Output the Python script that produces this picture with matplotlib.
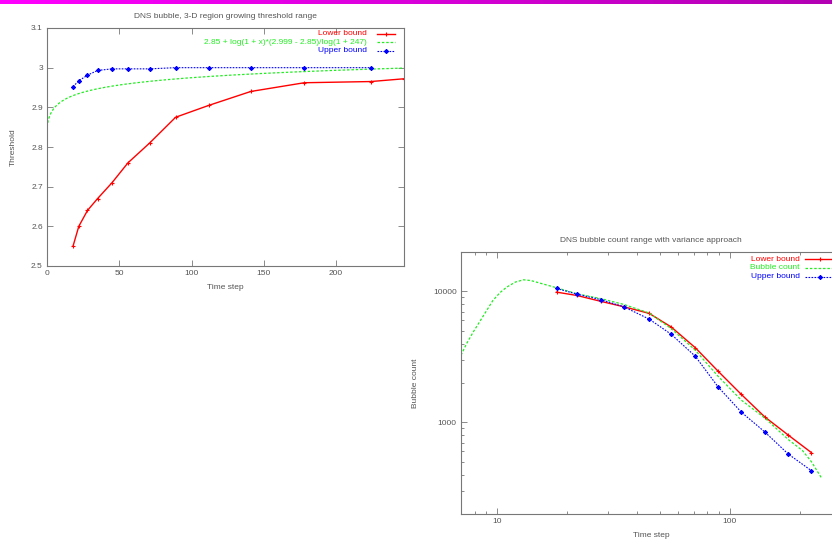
import numpy as np
import matplotlib.pyplot as plt
from matplotlib.ticker import FixedLocator, NullFormatter

plt.rcParams['font.family'] = ['Liberation Sans', 'DejaVu Sans']

# time steps shared by both runs
steps = [18, 22, 28, 35, 45, 56, 71, 89, 112, 141, 178, 224]

# threshold range (3-D region growing)
thr_steps_low = steps + [247]
thr_low = [2.55, 2.60, 2.64, 2.67, 2.71, 2.76, 2.81, 2.875, 2.905, 2.94, 2.962, 2.965, 2.972]
thr_up = [2.952, 2.967, 2.981, 2.993, 2.997, 2.997, 2.997, 3.0, 3.0, 3.0, 3.0, 3.0]
fit_base, fit_top, fit_end = 2.85, 2.999, 247
thr_yticks = [2.5, 2.6, 2.7, 2.8, 2.9, 3.0, 3.1]
thr_yticklabels = ['2.5', '2.6', '2.7', '2.8', '2.9', '3', '3.1']
thr_xticks = [0, 50, 100, 150, 200]

# bubble count range (variance approach)
cnt_low = [9880, 9320, 8390, 7640, 6800, 5350, 3720, 2460, 1635, 1104, 801, 588]
cnt_up = [10540, 9540, 8640, 7640, 6150, 4705, 3200, 1866, 1197, 848, 574, 428]
bubble_t = [7.0, 7.4, 7.9, 8.4, 9.0, 9.6, 10.3, 11.0, 12.0, 13.0, 14.0, 15.3, 18,
            22, 28, 35, 45, 56, 71, 89, 112, 142, 178, 205, 224, 248]
bubble_n = [3260, 4000, 4900, 5840, 7100, 8540, 9800, 10790, 11800, 12270, 12100,
            11570, 10670, 9600, 8800, 7960, 6840, 5200, 3560, 2250, 1479, 1073,
            741, 610, 501, 374]

RED, GREEN, BLUE = '#ff0000', '#22ee22', '#0000ff'
GREY = '#555555'
FS = 6

fig = plt.figure(figsize=(8.32, 5.42), dpi=100)

# magenta strip across the top
bar = fig.add_axes([0, 1 - 4 / 542, 1, 4 / 542])
grad = np.linspace(0, 1, 256)
rgb = np.stack([1 - 0.3 * grad, np.zeros_like(grad), 1 - 0.3 * grad], axis=-1)
bar.imshow(rgb[None, :, :], aspect='auto', extent=[0, 1, 0, 1])
bar.axis('off')


def style_axes(ax):
    for s in ax.spines.values():
        s.set_color('#777777')
        s.set_linewidth(0.8)
    ax.tick_params(which='both', direction='in', top=True, right=True,
                   color='#777777', width=0.6, labelsize=FS, labelcolor=GREY)
    ax.tick_params(which='major', length=4, pad=3)
    ax.tick_params(which='minor', length=2.5)


def key(ax, row, label, y0, dy, xt, xs0, xs1, **style):
    y = 1 - y0 - row * dy
    ax.text(xt, y, label, transform=ax.transAxes, ha='right', va='center',
            fontsize=FS, color=style['color'])
    ax.plot([xs0, (xs0 + xs1) / 2, xs1], [y, y, y], transform=ax.transAxes,
            clip_on=False, markevery=[1], **style)


low_style = dict(color=RED, lw=1.0, marker='+', ms=3, mew=0.8)
fit_style = dict(color=GREEN, lw=0.9, ls=(0, (2, 1.5)))
up_style = dict(color=BLUE, lw=0.8, ls=(0, (1.5, 1.2)), marker=(8, 2, 0), ms=3, mew=0.8)

# left: threshold range
ax1 = fig.add_axes([47 / 832, 1 - 266 / 542, 357 / 832, 238 / 542])
t_fit = np.linspace(0, fit_end, 400)
y_fit = fit_base + np.log1p(t_fit) * (fit_top - fit_base) / np.log1p(fit_end)
ax1.plot(thr_steps_low, thr_low, **low_style)
ax1.plot(t_fit, y_fit, **fit_style)
ax1.plot(steps, thr_up, **up_style)
ax1.set_xlim(0, fit_end)
ax1.set_ylim(2.5, 3.1)
ax1.set_xticks(thr_xticks)
ax1.set_yticks(thr_yticks)
ax1.set_yticklabels(thr_yticklabels)
style_axes(ax1)
ax1.set_title('DNS bubble, 3-D region growing threshold range', fontsize=FS,
              color=GREY, pad=7)
ax1.set_xlabel('Time step', fontsize=FS, color=GREY, labelpad=5)
ax1.set_ylabel('Threshold', fontsize=FS, color=GREY, labelpad=10)

k1 = dict(y0=0.025, dy=0.035, xt=0.896, xs0=0.924, xs1=0.975)
key(ax1, 0, 'Lower bound', **k1, **low_style)
key(ax1, 1, '2.85 + log(1 + x)*(2.999 - 2.85)/log(1 + 247)', **k1, **fit_style)
key(ax1, 2, 'Upper bound', **k1, **up_style)

# right: bubble count range, log-log
ax2 = fig.add_axes([461 / 832, 28 / 542, 380 / 832, 262 / 542])
ax2.plot(steps, cnt_low, **low_style)
ax2.plot(bubble_t, bubble_n, **fit_style)
ax2.plot(steps, cnt_up, **up_style)
ax2.set_xscale('log')
ax2.set_yscale('log')
ax2.set_xlim(7, 300)
ax2.set_ylim(200, 20000)
ax2.xaxis.set_major_locator(FixedLocator([10, 100]))
ax2.set_xticklabels(['10', '100'])
ax2.yaxis.set_major_locator(FixedLocator([1000, 10000]))
ax2.set_yticklabels(['1000', '10000'])
ax2.xaxis.set_minor_formatter(NullFormatter())
ax2.yaxis.set_minor_formatter(NullFormatter())
style_axes(ax2)
ax2.set_title('DNS bubble count range with variance approach', fontsize=FS,
              color=GREY, pad=7)
ax2.set_xlabel('Time step', fontsize=FS, color=GREY, labelpad=5)
ax2.set_ylabel('Bubble count', fontsize=FS, color=GREY, labelpad=10)

k2 = dict(y0=0.028, dy=0.033, xt=0.892, xs0=0.905, xs1=0.985)
key(ax2, 0, 'Lower bound', **k2, **low_style)
key(ax2, 1, 'Bubble count', **k2, **fit_style)
key(ax2, 2, 'Upper bound', **k2, **up_style)

fig.savefig('out.png', dpi=100)
